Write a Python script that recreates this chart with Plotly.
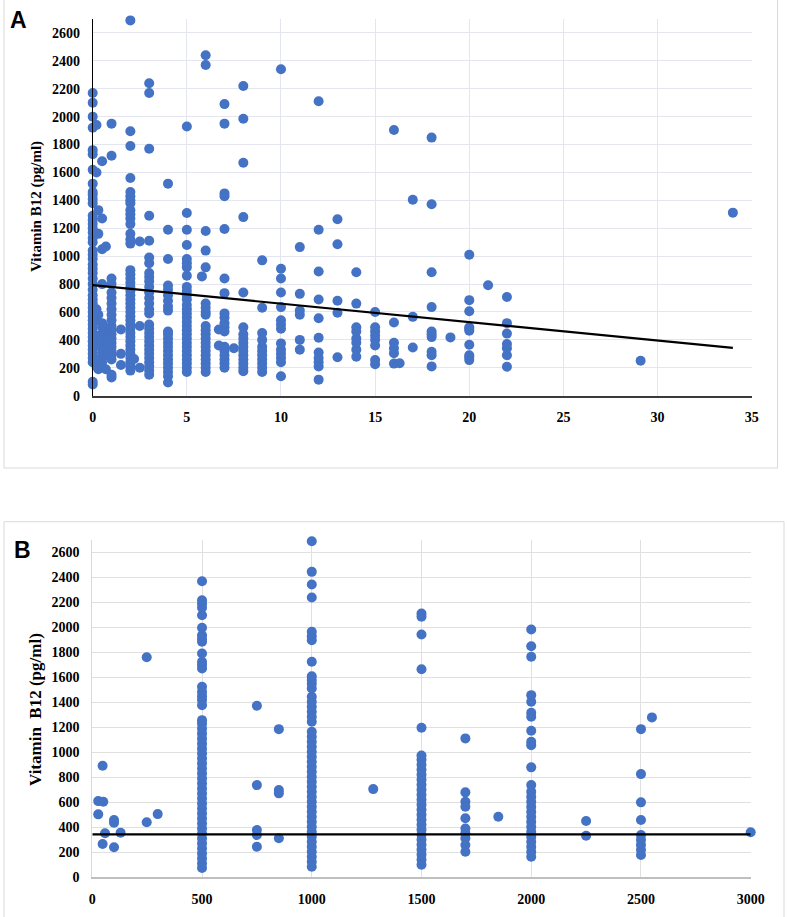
import plotly.graph_objects as go

W, H = 787, 917
BLUE = "#4472C4"

# ---- panel A: x groups and the B12 values seen at each of them ----
a_group_x = [0, 0.2, 0.3, 0.5, 0.7, 0.8, 1, 1.5, 2, 2.2, 2.5, 3, 4, 5, 5.8, 6, 6.7,
             7, 7.5, 8, 9, 10, 11, 12, 13, 14, 15, 16, 16.3, 17, 18, 19, 20, 21,
             22, 29.1, 34]
a_group_y = [
    [80, 100, 240, 270, 300, 330, 360, 390, 420, 450, 480, 510, 540, 570, 600,
     630, 660, 690, 720, 760, 800, 840, 880, 910, 940, 980, 1010, 1040, 1100,
     1130, 1170, 1200, 1230, 1260, 1290, 1380, 1410, 1440, 1460, 1520, 1620,
     1730, 1760, 1920, 2000, 2100, 2170],
    [1940, 1600, 620, 540, 210],
    [1330, 1160, 580, 430, 360, 260, 190],
    [1680, 1270, 1050, 800, 520, 490, 400, 310, 240],
    [1070, 480, 450, 340, 290, 190],
    [420, 390, 330],
    [130, 150, 260, 290, 320, 350, 380, 410, 440, 470, 500, 540, 580, 620, 660,
     700, 740, 800, 840, 1720, 1950],
    [220, 300, 475],
    [180, 210, 240, 270, 300, 330, 360, 390, 420, 450, 480, 510, 540, 570, 600,
     630, 660, 690, 720, 750, 780, 810, 840, 870, 900, 1090, 1120, 1160, 1230,
     1270, 1300, 1330, 1380, 1400, 1430, 1460, 1560, 1790, 1895, 2690],
    [263],
    [200, 500, 1105],
    [150, 180, 210, 240, 270, 300, 330, 360, 390, 420, 450, 480, 510, 590, 620,
     660, 700, 740, 780, 820, 850, 880, 950, 990, 1110, 1290, 1770, 2170, 2240],
    [95, 140, 170, 200, 230, 260, 290, 320, 350, 380, 410, 440, 460, 610, 640,
     680, 720, 760, 790, 980, 1190, 1520],
    [170, 200, 230, 260, 290, 320, 350, 380, 410, 440, 470, 500, 530, 560, 590,
     620, 650, 690, 720, 750, 780, 860, 920, 950, 980, 1080, 1190, 1310, 1930],
    [855],
    [170, 200, 230, 260, 290, 320, 350, 380, 410, 440, 470, 500, 580, 600, 630,
     660, 920, 1040, 1180, 2370, 2440],
    [360, 475],
    [200, 230, 260, 290, 320, 350, 460, 490, 520, 560, 590, 735, 840, 1195,
     1430, 1450, 1950, 2090],
    [340],
    [175, 200, 230, 260, 290, 320, 350, 380, 410, 440, 490, 740, 1280, 1670,
     1985, 2220],
    [170, 200, 230, 260, 290, 320, 350, 400, 450, 630, 970],
    [140, 240, 270, 300, 330, 375, 480, 510, 540, 635, 740, 840, 910, 2340],
    [330, 400, 580, 610, 730, 1065],
    [115, 210, 240, 270, 310, 415, 555, 690, 890, 1190, 2110],
    [275, 595, 680, 1085, 1265],
    [280, 330, 380, 410, 460, 490, 660, 885],
    [225, 255, 360, 400, 430, 460, 490, 600],
    [230, 305, 340, 380, 525, 1905],
    [232],
    [345, 565, 1405],
    [210, 290, 315, 420, 440, 460, 635, 885, 1372, 1850],
    [418],
    [255, 275, 290, 365, 465, 480, 490, 605, 685, 1010],
    [792],
    [208, 290, 340, 370, 445, 520, 708],
    [250],
    [1312],
]
a_trend_x = [0, 34]
a_trend_y = [792, 343]

# ---- panel B ----
b_group_x = [27, 47, 50, 58, 99, 129, 248, 298, 500, 750, 850, 1000, 1280, 1500,
             1700, 1850, 2000, 2250, 2500, 2550, 3000]
b_group_y = [
    [610, 504],
    [893, 266],
    [605],
    [352],
    [458, 436, 240],
    [357],
    [1762, 440],
    [506],
    [74, 110, 150, 190, 230, 270, 310, 350, 390, 430, 470, 510, 550, 590, 630,
     670, 710, 750, 790, 830, 870, 910, 950, 990, 1030, 1070, 1110, 1150, 1190,
     1230, 1258, 1378, 1420, 1450, 1485, 1525, 1672, 1700, 1725, 1792, 1885,
     1910, 1938, 1998, 2098, 2157, 2190, 2218, 2370],
    [1373, 738, 378, 338, 245],
    [1186, 698, 672, 312],
    [85, 125, 165, 205, 245, 285, 325, 365, 405, 445, 485, 525, 565, 605, 645,
     685, 725, 765, 805, 845, 885, 925, 965, 1005, 1045, 1085, 1125, 1165, 1245,
     1285, 1325, 1365, 1405, 1445, 1512, 1550, 1580, 1610, 1725, 1898, 1930,
     1965, 2240, 2344, 2445, 2690],
    [706],
    [100, 140, 180, 220, 260, 300, 340, 380, 420, 460, 500, 540, 580, 620, 660,
     700, 740, 780, 820, 860, 900, 940, 975, 1197, 1666, 1944, 2085, 2112],
    [1112, 680, 605, 565, 472, 391, 352, 312, 258, 205],
    [485],
    [165, 205, 245, 285, 325, 365, 405, 445, 485, 525, 565, 605, 645, 685, 738,
     880, 1058, 1085, 1173, 1285, 1317, 1405, 1458, 1765, 1850, 1984],
    [450, 333],
    [1186, 826, 600, 458, 338, 300, 260, 220, 178],
    [1280],
    [360],
]
b_trend_x = [0, 3000]
b_trend_y = [344, 344]


def flatten(group_x, group_y):
    xs, ys = [], []
    for gx, gy in zip(group_x, group_y):
        xs += [gx] * len(gy)
        ys += gy
    return xs, ys


a_x, a_y = flatten(a_group_x, a_group_y)
b_x, b_y = flatten(b_group_x, b_group_y)


def px(x):
    return x / W


def py(y):
    return 1 - y / H


tick_font = dict(family="Liberation Serif, Times New Roman, serif", size=14,
                 color="black", weight="bold")
axis_common = dict(showgrid=True, zeroline=False, showline=True, automargin=False,
                   ticks="outside", tickcolor="rgba(0,0,0,0)", tickfont=tick_font)

fig = go.Figure()
fig.add_trace(go.Scatter(x=a_x, y=a_y, mode="markers", xaxis="x", yaxis="y",
                         marker=dict(color=BLUE, size=10), cliponaxis=False))
fig.add_trace(go.Scatter(x=a_trend_x, y=a_trend_y, mode="lines", xaxis="x", yaxis="y",
                         line=dict(color="black", width=2.2)))
fig.add_trace(go.Scatter(x=b_x, y=b_y, mode="markers", xaxis="x2", yaxis="y2",
                         marker=dict(color=BLUE, size=10), cliponaxis=False))
fig.add_trace(go.Scatter(x=b_trend_x, y=b_trend_y, mode="lines", xaxis="x2", yaxis="y2",
                         line=dict(color="black", width=2.2)))

fig.update_layout(
    width=W, height=H, autosize=False,
    margin=dict(l=0, r=0, t=0, b=0),
    paper_bgcolor="white", plot_bgcolor="white",
    showlegend=False,
    xaxis=dict(axis_common, domain=[px(92.7), px(751.7)], range=[0, 35], dtick=5,
               gridcolor="#e3e6ee", linecolor="#3a3a3a", linewidth=1.5,
               ticklen=8, anchor="y"),
    yaxis=dict(axis_common, domain=[py(395.7), py(19)], range=[0, 2700], dtick=200,
               gridcolor="#e3e6ee", linecolor="black", linewidth=1,
               ticklen=9, anchor="x"),
    xaxis2=dict(axis_common, domain=[px(92.3), px(750.7)], range=[0, 3000], dtick=500,
                gridcolor="#e0e0e0", linecolor="#bfbfbf", linewidth=1.5,
                ticklen=8, anchor="y2"),
    yaxis2=dict(axis_common, domain=[py(877.3), py(540)], range=[0, 2700], dtick=200,
                gridcolor="#e0e0e0", linecolor="#d9d9d9", linewidth=1,
                ticklen=9, anchor="x2"),
)

# panel frames
fig.add_shape(type="rect", xref="paper", yref="paper", layer="below",
              x0=px(4), x1=px(777.5), y0=py(468), y1=1.01,
              line=dict(color="#d9d9d9", width=1))
fig.add_shape(type="rect", xref="paper", yref="paper", layer="below",
              x0=px(4), x1=px(784), y0=-0.01, y1=py(521.7),
              line=dict(color="#d9d9d9", width=1))

title_font = dict(family="Liberation Serif, Times New Roman, serif",
                  color="black", weight="bold")
fig.add_annotation(text="Vitamin B12 (pg/ml)", xref="paper", yref="paper",
                   x=px(37), y=py(207), textangle=-90, showarrow=False,
                   xanchor="center", yanchor="middle",
                   font=dict(title_font, size=15))
fig.add_annotation(text="Vitamin  B12 (pg/ml)", xref="paper", yref="paper",
                   x=px(35), y=py(710), textangle=-90, showarrow=False,
                   xanchor="center", yanchor="middle",
                   font=dict(title_font, size=17))

letter_font = dict(family="Liberation Sans, Arial, sans-serif", size=23,
                   color="black", weight="bold")
fig.add_annotation(text="A", xref="paper", yref="paper", x=px(18), y=py(20),
                   showarrow=False, xanchor="center", yanchor="middle",
                   font=letter_font)
fig.add_annotation(text="B", xref="paper", yref="paper", x=px(22), y=py(549.5),
                   showarrow=False, xanchor="center", yanchor="middle",
                   font=letter_font)

# the page's default body margin would shift the figure by 8px
fig.write_html("out.html", config={"displayModeBar": False},
               post_script="document.body.style.margin = '0';")
